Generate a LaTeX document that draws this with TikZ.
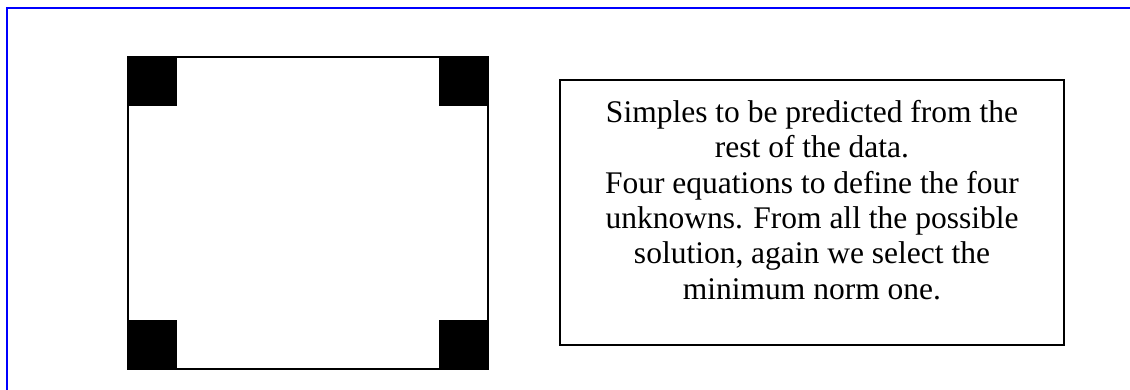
\documentclass[tikz,border=0pt]{standalone}
\usepackage{fontspec}
\setmainfont{Liberation Serif}
\begin{document}
\begin{tikzpicture}[x=1pt,y=-1pt,
  frameline/.style={draw=blue,line width=2pt},
  outline/.style={draw=black,line width=2pt},
  corner/.style={fill=black,draw=none},
  textbox/.style={draw=black,line width=1.8pt,minimum width=504pt,minimum height=265pt,inner sep=0pt},
  boxtext/.style={inner sep=0pt,align=center,font=\fontsize{31.5}{35.3}\selectfont}]
\useasboundingbox (0,0) rectangle (1130,389);
\coordinate (fbl) at (7,392);
\coordinate (ftl) at (7,8);
\coordinate (ftr) at (1133,8);
\draw[frameline] (fbl) -- (ftl) -- (ftr);
\node[outline,minimum width=360pt,minimum height=312pt,inner sep=0pt] (sq) at (308,213) {};
\node[corner,minimum size=50pt,inner sep=0pt,anchor=north west] (c1) at (127,56) {};
\node[corner,minimum size=50pt,inner sep=0pt,anchor=north east] (c2) at (489,56) {};
\node[corner,minimum size=50pt,inner sep=0pt,anchor=south west] (c3) at (127,370) {};
\node[corner,minimum size=50pt,inner sep=0pt,anchor=south east] (c4) at (489,370) {};
\node[textbox] (tb) at (812,212.5) {};
\node[boxtext] (tx) at (812,200) {Simples to be predicted from the\\rest of the data.\\Four equations to define the four\\unknowns. From all the possible\\solution, again we select the\\minimum norm one.};
\end{tikzpicture}
\end{document}
